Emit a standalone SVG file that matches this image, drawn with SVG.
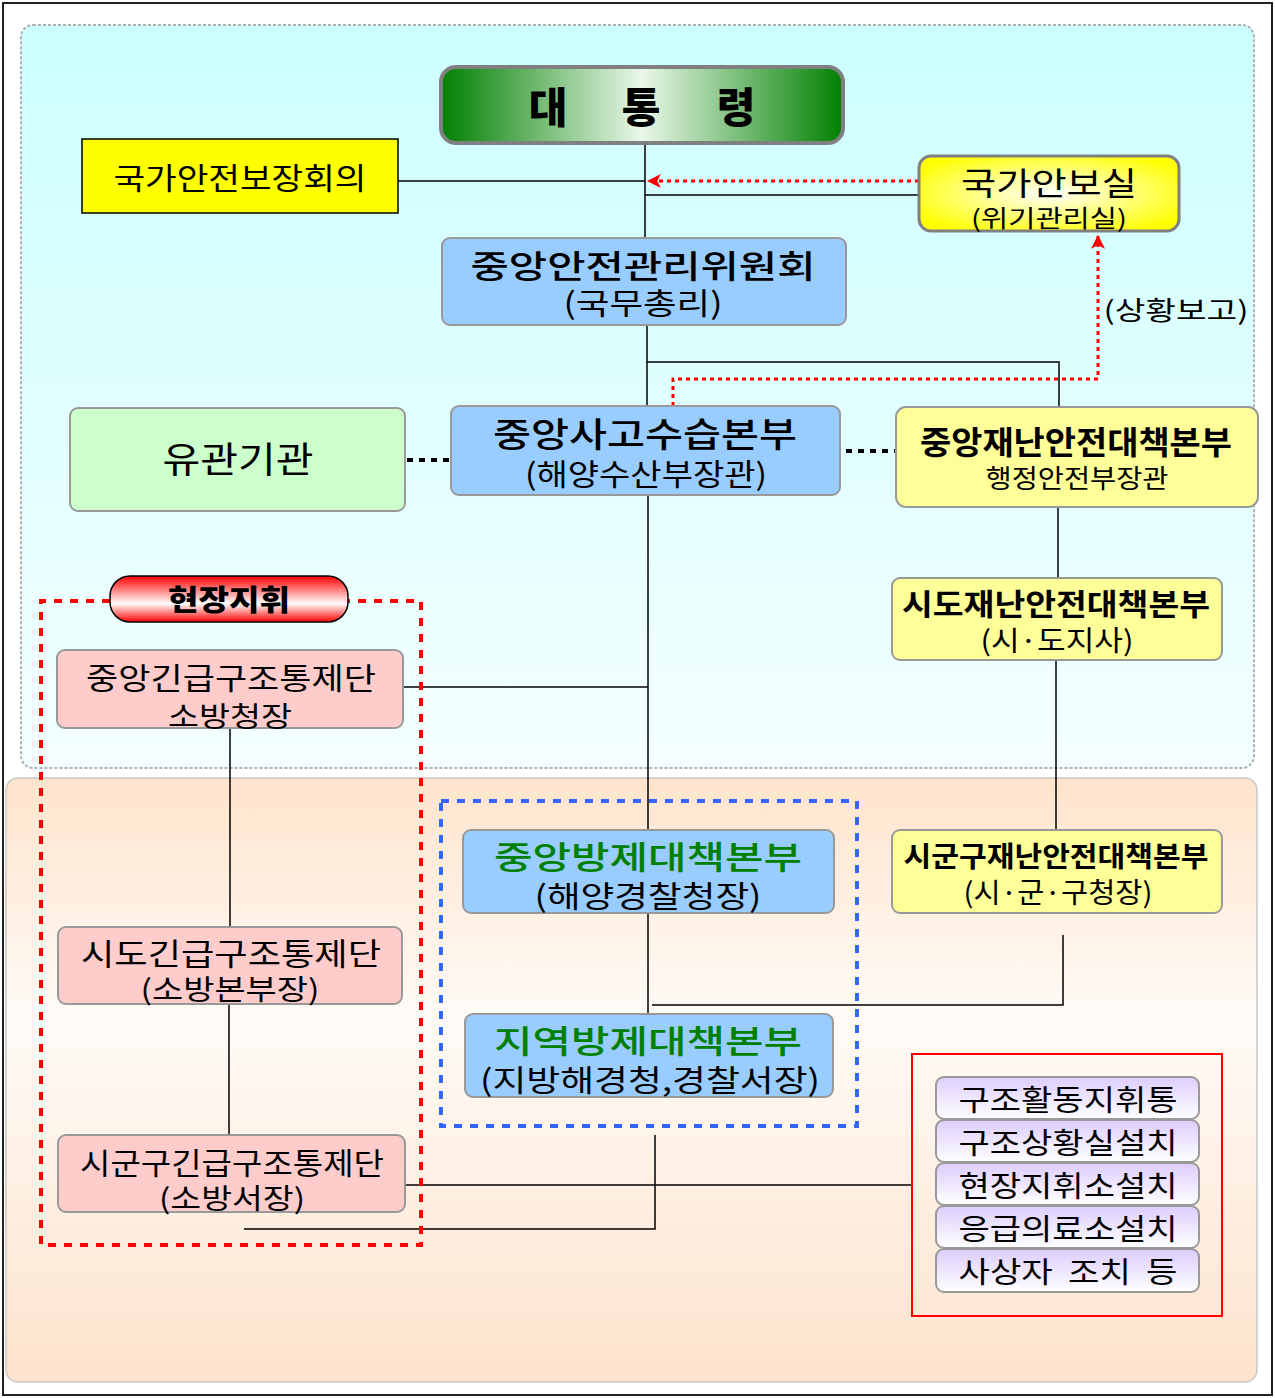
<svg xmlns="http://www.w3.org/2000/svg" width="1275" height="1398" viewBox="0 0 1275 1398">
<defs>
<linearGradient id="gUp" x1="0" y1="0" x2="0" y2="1"><stop offset="0" stop-color="#ccffff"/><stop offset="1" stop-color="#f4ffff"/></linearGradient>
<linearGradient id="gLow" x1="0" y1="0" x2="0" y2="1"><stop offset="0" stop-color="#ffe4cc"/><stop offset="0.4" stop-color="#fffbf7"/><stop offset="1" stop-color="#fde3cc"/></linearGradient>
<linearGradient id="gPres" x1="0" y1="0" x2="1" y2="0"><stop offset="0" stop-color="#008000"/><stop offset="0.5" stop-color="#eaf7ea"/><stop offset="1" stop-color="#008000"/></linearGradient>
<radialGradient id="gNsa" cx="0.5" cy="0.5" r="0.6"><stop offset="0" stop-color="#ffffff"/><stop offset="1" stop-color="#ffff00"/></radialGradient>
<linearGradient id="gRed" x1="0" y1="0" x2="0" y2="1"><stop offset="0" stop-color="#ff0000"/><stop offset="0.6" stop-color="#ffffff"/><stop offset="1" stop-color="#ff0000"/></linearGradient>
<linearGradient id="gPur" x1="0" y1="0" x2="0" y2="1"><stop offset="0" stop-color="#dccdff"/><stop offset="1" stop-color="#ffffff"/></linearGradient>
<marker id="ar" viewBox="0 0 12 12" refX="11" refY="6" markerWidth="14" markerHeight="14" orient="auto" markerUnits="userSpaceOnUse"><path d="M0,0 L12,6 L0,12 L3,6 z" fill="#ff0000"/></marker>
<style>
text{font-family:"Noto Sans CJK KR","Noto Sans",sans-serif;fill:#000;text-anchor:middle}
.b{font-weight:bold}
.m{font-weight:500}
.g{fill:#008000}
.box{stroke:#999999;stroke-width:2}
.blue{fill:#99ccff}
.pink{fill:#ffcccc}
.yel{fill:#ffff99}
.pur{fill:url(#gPur);stroke:#999999;stroke-width:2}
.ln{stroke:#000;stroke-width:1.5;fill:none}
.dl{stroke:#ff0000;stroke-width:3;fill:none;stroke-dasharray:4,4}
.dk{stroke:#000;stroke-width:4;fill:none;stroke-dasharray:6,6}
</style>
</defs>
<rect x="3" y="3" width="1269" height="1392" fill="#ffffff" stroke="#222" stroke-width="2"/>
<rect x="21" y="25" width="1233" height="743" rx="12" fill="url(#gUp)" stroke="#b0b0b0" stroke-width="2" stroke-dasharray="3,2"/>
<rect x="6" y="778" width="1251" height="604" rx="12" fill="url(#gLow)" stroke="#c8c8c8" stroke-width="1.5"/>

<g id="connectors">
<path class="ln" d="M645,143 V238"/>
<path class="ln" d="M398,181 H645"/>
<path class="ln" d="M645,195 H919"/>
<path class="ln" d="M647,325 V406"/>
<path class="ln" d="M647,362 H1059 V407"/>
<path class="ln" d="M648,495 V830"/>
<path class="ln" d="M403,687 H648"/>
<path class="ln" d="M1058,507 V578"/>
<path class="ln" d="M1056,660 V830"/>
<path class="ln" d="M230,728 V927"/>
<path class="ln" d="M229,1004 V1135"/>
<path class="ln" d="M648,913 V1014"/>
<path class="ln" d="M652,1005 H1063 V935"/>
<path class="ln" d="M405,1185 H912" stroke="#666"/>
<path class="ln" d="M655,1135 V1229 H244"/>
<path class="dk" d="M407,460 H451"/>
<path class="dk" d="M846,451 H896"/>
<path class="dl" d="M919,181 H648" marker-end="url(#ar)"/>
<path class="dl" d="M673,406 V379 H1098 V236" marker-end="url(#ar)"/>
<text x="1176" y="320" font-size="26" textLength="145" lengthAdjust="spacingAndGlyphs">(상황보고)</text>
<path d="M110,601 H41 V1245 H421 V601 H348" stroke="#ff0000" stroke-width="4" fill="none" stroke-dasharray="8,8"/>
<rect x="441" y="801" width="416" height="325" stroke="#3366ff" stroke-width="4" fill="none" stroke-dasharray="8,8"/>
<rect x="912" y="1054" width="310" height="262" stroke="#ff0000" stroke-width="2" fill="none"/>
</g>

<g id="president">
<rect x="441" y="67" width="402" height="76" rx="15" fill="url(#gPres)" stroke="#808080" stroke-width="4"/>
<text x="548" y="123" font-size="42" font-weight="900">대</text>
<text x="641" y="123" font-size="42" font-weight="900">통</text>
<text x="736" y="123" font-size="42" font-weight="900">령</text>
</g>
<g id="nsc">
<rect x="82" y="139" width="316" height="74" fill="#ffff00" stroke="#000" stroke-width="1.5"/>
<text x="240" y="189" font-size="30" textLength="253" lengthAdjust="spacingAndGlyphs">국가안전보장회의</text>
</g>
<g id="nso">
<rect x="919" y="156" width="260" height="75" rx="12" fill="url(#gNsa)" stroke="#808080" stroke-width="3"/>
<text x="1049" y="195" font-size="32" textLength="176" lengthAdjust="spacingAndGlyphs">국가안보실</text>
<text x="1049" y="227" font-size="24" textLength="156" lengthAdjust="spacingAndGlyphs">(위기관리실)</text>
</g>
<g id="csc">
<rect x="442" y="238" width="404" height="87" rx="8" class="box blue"/>
<text x="643" y="278" font-size="32" class="m" textLength="345" lengthAdjust="spacingAndGlyphs">중앙안전관리위원회</text>
<text x="643" y="314" font-size="30" textLength="159" lengthAdjust="spacingAndGlyphs">(국무총리)</text>
</g>
<g id="related">
<rect x="70" y="408" width="335" height="103" rx="8" class="box" fill="#ccffcc"/>
<text x="238" y="473" font-size="36" textLength="151" lengthAdjust="spacingAndGlyphs">유관기관</text>
</g>
<g id="cahq">
<rect x="451" y="406" width="389" height="89" rx="8" class="box blue"/>
<text x="645" y="447" font-size="34" class="m" textLength="304" lengthAdjust="spacingAndGlyphs">중앙사고수습본부</text>
<text x="646" y="485" font-size="30" textLength="242" lengthAdjust="spacingAndGlyphs">(해양수산부장관)</text>
</g>
<g id="cdsch">
<rect x="896" y="407" width="362" height="100" rx="10" class="box yel"/>
<text x="1076" y="454" font-size="32" class="b" textLength="312" lengthAdjust="spacingAndGlyphs">중앙재난안전대책본부</text>
<text x="1077" y="488" font-size="26" textLength="183" lengthAdjust="spacingAndGlyphs">행정안전부장관</text>
</g>
<g id="sido-dsch">
<rect x="892" y="578" width="330" height="82" rx="8" class="box yel"/>
<text x="1056" y="615" font-size="30" class="b" textLength="308" lengthAdjust="spacingAndGlyphs">시도재난안전대책본부</text>
<text x="1057" y="651" font-size="28" textLength="153" lengthAdjust="spacingAndGlyphs">(시·도지사)</text>
</g>
<g id="field">
<rect x="110" y="576" width="238" height="46" rx="20" fill="url(#gRed)" stroke="#000" stroke-width="1.5"/>
<text x="229" y="611" font-size="29" font-weight="900" textLength="122" lengthAdjust="spacingAndGlyphs">현장지휘</text>
</g>
<g id="cerc">
<rect x="57" y="650" width="346" height="78" rx="8" class="box pink"/>
<text x="231" y="689" font-size="30" textLength="290" lengthAdjust="spacingAndGlyphs">중앙긴급구조통제단</text>
<text x="230" y="727" font-size="28" textLength="124" lengthAdjust="spacingAndGlyphs">소방청장</text>
</g>
<g id="sido-erc">
<rect x="58" y="927" width="344" height="77" rx="8" class="box pink"/>
<text x="231" y="965" font-size="31" textLength="300" lengthAdjust="spacingAndGlyphs">시도긴급구조통제단</text>
<text x="230" y="1000" font-size="28" textLength="179" lengthAdjust="spacingAndGlyphs">(소방본부장)</text>
</g>
<g id="sgg-erc">
<rect x="58" y="1135" width="347" height="77" rx="8" class="box pink"/>
<text x="232" y="1174" font-size="30" textLength="304" lengthAdjust="spacingAndGlyphs">시군구긴급구조통제단</text>
<text x="232" y="1209" font-size="28" textLength="146" lengthAdjust="spacingAndGlyphs">(소방서장)</text>
</g>
<g id="cpc">
<rect x="463" y="830" width="371" height="83" rx="8" class="box blue"/>
<text x="648" y="869" font-size="32" class="m g" textLength="308" lengthAdjust="spacingAndGlyphs">중앙방제대책본부</text>
<text x="648" y="907" font-size="30" textLength="227" lengthAdjust="spacingAndGlyphs">(해양경찰청장)</text>
</g>
<g id="rpc">
<rect x="465" y="1014" width="368" height="83" rx="8" class="box blue"/>
<text x="648" y="1053" font-size="32" class="m g" textLength="308" lengthAdjust="spacingAndGlyphs">지역방제대책본부</text>
<text x="650" y="1091" font-size="30" textLength="340" lengthAdjust="spacingAndGlyphs">(지방해경청,경찰서장)</text>
</g>
<g id="sgg-dsch">
<rect x="892" y="830" width="330" height="83" rx="8" class="box yel"/>
<text x="1056" y="867" font-size="28" class="b" textLength="305" lengthAdjust="spacingAndGlyphs">시군구재난안전대책본부</text>
<text x="1058" y="903" font-size="28" textLength="189" lengthAdjust="spacingAndGlyphs">(시·군·구청장)</text>
</g>
<g id="tasks">
<rect x="936" y="1077" width="263" height="42" rx="8" class="pur"/>
<text x="1068" y="1111" font-size="29" textLength="219" lengthAdjust="spacingAndGlyphs">구조활동지휘통</text>
<rect x="936" y="1120" width="263" height="42" rx="8" class="pur"/>
<text x="1068" y="1154" font-size="29" textLength="219" lengthAdjust="spacingAndGlyphs">구조상황실설치</text>
<rect x="936" y="1163" width="263" height="42" rx="8" class="pur"/>
<text x="1068" y="1197" font-size="29" textLength="219" lengthAdjust="spacingAndGlyphs">현장지휘소설치</text>
<rect x="936" y="1206" width="263" height="42" rx="8" class="pur"/>
<text x="1068" y="1240" font-size="29" textLength="219" lengthAdjust="spacingAndGlyphs">응급의료소설치</text>
<rect x="936" y="1249" width="263" height="43" rx="8" class="pur"/>
<text x="1068" y="1283" font-size="29" textLength="219" lengthAdjust="spacingAndGlyphs" xml:space="preserve">사상자  조치  등</text>
</g>
</svg>
